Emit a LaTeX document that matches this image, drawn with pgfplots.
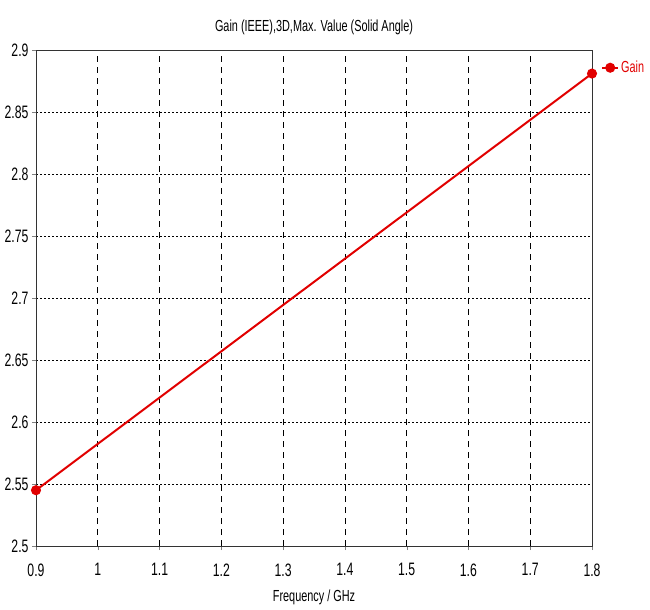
\documentclass[border=0pt]{standalone}
\usepackage{fontspec}
\setmainfont{Liberation Sans}[FakeStretch=0.68]
\usepackage{pgfplots}
\pgfplotsset{compat=1.18}
\definecolor{cstred}{RGB}{225,0,0}
\begin{document}
\begin{tikzpicture}
\begin{axis}[
  name=ax,
  scale only axis,
  width=556pt, height=496pt,
  xmin=0.9, xmax=1.8, ymin=2.5, ymax=2.9,
  xtick={0.9,1,...,1.8},
  ytick={2.5,2.55,...,2.9},
  /pgf/number format/assume math mode=true,
  xticklabel style={/pgf/number format/fixed, /pgf/number format/precision=2, font=\fontsize{18}{20}\selectfont, yshift=-10pt},
  yticklabel style={/pgf/number format/fixed, /pgf/number format/precision=2, font=\fontsize{18}{20}\selectfont},
  tick align=outside,
  major tick length=4pt,
  xtick pos=left, ytick pos=left,
  grid=major,
  x grid style={black, dash pattern=on 6pt off 5pt, line width=0.6pt},
  y grid style={black, dash pattern=on 2pt off 2pt, line width=0.8pt},
  axis line style={black!80, line width=0.8pt},
  title={Gain (IEEE),3D,Max. Value (Solid Angle)},
  title style={font=\fontsize{16}{18}\selectfont, yshift=6pt},
  xlabel={Frequency / GHz},
  xlabel style={font=\fontsize{16}{18}\selectfont, yshift=-7pt},
  legend style={at={(1,1)}, anchor=north west, xshift=8pt, yshift=-8pt, draw=none, fill=none, text=cstred, font=\fontsize{16}{18}\selectfont, inner sep=1pt},
  legend image code/.code={\draw[#1, mark repeat=2, mark phase=2] plot coordinates {(0pt,0pt) (8pt,0pt) (16pt,0pt)};},
  legend cell align=left,
]
\addplot[cstred, line width=2pt, mark=*, mark size=4pt] coordinates {(0.9,2.545) (1.8,2.881)};
\addlegendentry{Gain}
\end{axis}
\pgfresetboundingbox
\path[use as bounding box] ([xshift=-36pt,yshift=-63pt]ax.south west) rectangle ([xshift=58pt,yshift=50pt]ax.north east);
\end{tikzpicture}
\end{document}
